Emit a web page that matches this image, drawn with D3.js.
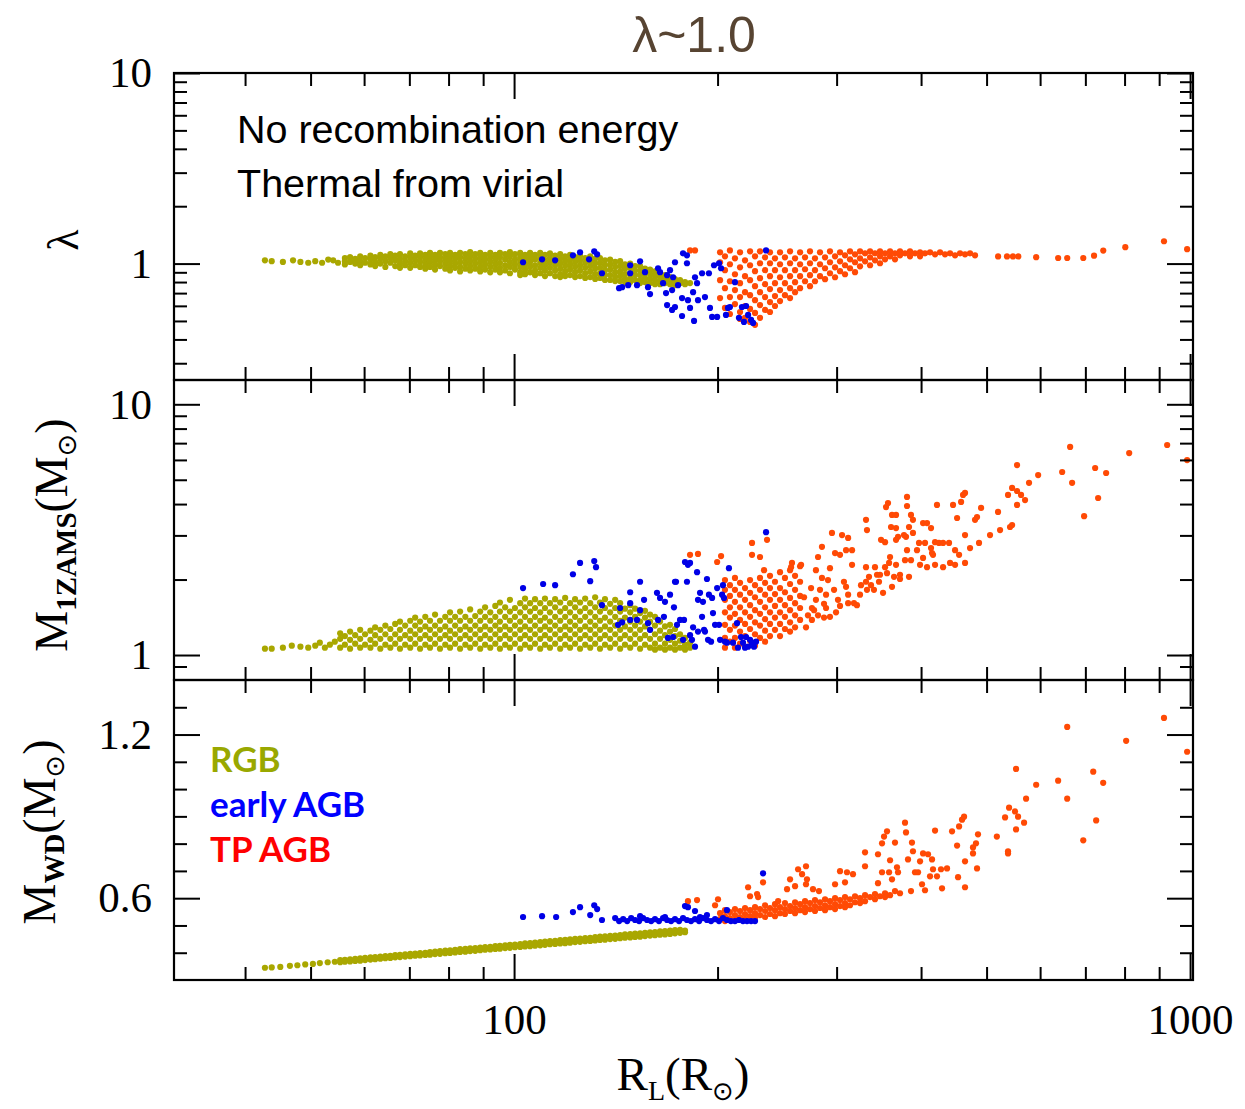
<!DOCTYPE html>
<html>
<head>
<meta charset="utf-8">
<script src="https://cdn.jsdelivr.net/npm/d3@7"></script>
<style>
body { margin: 0; background: #fff; }
svg { display: block; }
</style>
</head>
<body>
<svg id="chart" width="1245" height="1109"></svg>
<script>
// ---- tick values ----
const xMajorTicks = [100, 1000];
const xMinorTicks = [40, 50, 60, 70, 80, 90, 200, 300, 400, 500, 600, 700, 800, 900];
const lambdaMajor = [1, 10];
const lambdaMinor = [0.3, 0.4, 0.5, 0.6, 0.7, 0.8, 0.9, 2, 3, 4, 5, 6, 7, 8, 9];
const mzamsMajor = [1, 10];
const mzamsMinor = [0.9, 2, 3, 4, 5, 6, 7, 8, 9];
const mwdMajor = [0.6, 1.2];
const mwdMinor = [0.4, 0.5, 0.7, 0.8, 0.9, 1.0, 1.1, 1.3];

// ---- data: [R_L, value] or [R_L, [values...]] ----
// panel 1: lambda
const rgbLambda = [
  [42.8,[1.04]],[43.8,[1.03]],[45.5,[1.02]],[47.1,[1.04]],[48.3,[1.02]],[49.6,[1.01]],[50.8,[1.03]],[52.0,[1.01]],[53.1,[1.05]],[54.0,[1.04]],[54.9,[1.01]],
  [56.2,[1.07,1.03,0.99]],[57.2,[1.08,1.02]],[58.2,[1.06,1.00,1.04]],[59.2,[1.09,1.03,0.98]],[60.2,[1.07,1.01]],[61.3,[1.10,1.05,0.99]],
  [62.3,[1.08,1.02,0.97]],[63.4,[1.11,1.06,1.00]],[64.5,[1.09,1.03,0.96]],[65.6,[1.12,1.07,1.01]],[66.7,[1.10,1.04,0.97]],[67.8,[1.12,1.06,1.00,0.95]],
  [69.0,[1.09,1.03,0.98]],[70.2,[1.13,1.07,1.01,0.95]],[71.4,[1.10,1.04,0.98]],[72.6,[1.13,1.08,1.02,0.96]],[73.9,[1.11,1.05,0.99,0.94]],
  [75.1,[1.14,1.08,1.02,0.96]],[76.4,[1.11,1.05,0.99,0.93]],[77.7,[1.14,1.08,1.03,0.97]],[79.1,[1.12,1.06,1.00,0.94]],[80.4,[1.14,1.09,1.03,0.97,0.92]],
  [81.8,[1.11,1.06,1.00,0.95]],[83.2,[1.14,1.08,1.02,0.96,0.91]],[84.7,[1.12,1.06,1.00,0.94]],[86.1,[1.15,1.09,1.03,0.97,0.92]],[87.6,[1.12,1.06,1.00,0.94]],
  [89.1,[1.14,1.08,1.02,0.96,0.91]],[90.6,[1.11,1.05,0.99,0.93]],[92.2,[1.14,1.08,1.02,0.96,0.90]],[93.8,[1.11,1.05,0.99,0.93]],[95.3,[1.14,1.08,1.01,0.95,0.90]],
  [97.0,[1.12,1.05,0.98,0.92]],[98.6,[1.15,1.09,1.02,0.96,0.89]],[100.3,[1.12,1.05,0.99,0.93]],[102.1,[1.14,1.08,1.02,0.96,0.90,0.87]],[103.8,[1.11,1.05,0.99,0.93,0.88]],
  [105.6,[1.14,1.08,1.02,0.96,0.90]],[107.4,[1.11,1.05,0.98,0.92,0.87]],[109.3,[1.14,1.08,1.01,0.95,0.89]],[111.1,[1.11,1.04,0.98,0.92,0.86]],[113.0,[1.13,1.07,1.01,0.95,0.89]],
  [115.0,[1.10,1.04,0.98,0.92,0.86]],[117.0,[1.12,1.06,1.00,0.94,0.88,0.85]],[119.0,[1.09,1.03,0.97,0.91,0.86]],[121.0,[1.11,1.05,0.99,0.93,0.87]],[123.1,[1.08,1.02,0.96,0.90,0.85]],
  [125.2,[1.10,1.04,0.98,0.92,0.86]],[127.4,[1.07,1.01,0.95,0.89,0.84]],[129.6,[1.09,1.03,0.97,0.91,0.85]],[131.8,[1.06,1.00,0.94,0.88,0.83]],[134.0,[1.07,1.01,0.95,0.89,0.84]],
  [136.3,[1.04,0.98,0.92,0.87,0.82]],[138.7,[1.05,0.99,0.93,0.87,0.82]],[141.1,[1.02,0.96,0.90,0.85,0.81]],[143.5,[1.03,0.97,0.91,0.86,0.81]],[145.9,[0.99,0.94,0.88,0.83,0.80]],
  [148.5,[1.00,0.95,0.89,0.84,0.80]],[151.0,[0.97,0.92,0.87,0.82]],[153.6,[0.97,0.92,0.87,0.82,0.79]],[156.2,[0.94,0.89,0.84,0.80]],[158.9,[0.93,0.88,0.83,0.79]],
  [161.6,[0.91,0.86,0.82,0.78]],[164.4,[0.89,0.85,0.81,0.78]],[167.2,[0.87,0.83,0.79]],[170.1,[0.85,0.81,0.78]],[173.0,[0.83,0.80,0.77]],[176.0,[0.82,0.79]],
  [179.0,[0.80,0.78]],[182.1,[0.79]]
];
const eagbLambda = [
  [103.1,1.016],[110.0,1.053],[115.0,1.040],[122.2,1.105],[125.2,1.146],[129.1,1.053],[131.4,1.159],[132.7,1.118],[134.9,0.890],[143.0,0.743],
  [144.5,0.752],[148.5,0.980],[148.5,0.890],[147.5,0.770],[152.0,0.770],[153.6,1.028],[156.2,0.901],[157.8,0.752],[158.9,0.692],[163.3,0.945],
  [164.4,0.901],[166.1,0.789],[168.4,0.869],[167.8,0.700],[170.1,0.923],[171.3,0.726],[171.9,0.848],[173.0,1.016],[168.4,0.606],[171.3,0.571],
  [173.0,0.592],[174.8,0.770],[177.2,0.659],[177.8,1.132],[180.2,1.105],[180.2,1.004],[180.8,0.643],[182.1,0.585],[184.0,0.708],[185.2,0.848],
  [186.5,0.789],[177.2,0.531],[184.6,0.500],[187.1,0.643],[189.7,0.890],[191.6,0.667],[194.2,0.890],[194.9,0.585],[196.3,0.525],[197.6,0.980],
  [199.7,0.525],[201.0,1.004],[202.4,0.945],[205.8,0.538],[207.2,0.585],[208.6,0.592],[212.2,0.799],[215.1,0.519],[217.3,0.592],[218.8,0.494],
  [220.4,0.599],[221.9,0.538],[224.2,0.506],[225.7,0.488],[235.9,1.173]
];
const tpagbLambda = [
  [182.1,[1.173]],[185.2,[1.173]],[201.7,[1.146,1.016,0.818,0.659]],[205.1,[1.092,0.923,0.743,0.585]],[208.6,[1.173,0.992,0.808,0.667,0.544]],
  [212.2,[1.066,0.879,0.726,0.613]],[215.9,[1.146,0.956,0.789,0.667,0.557,0.512]],[219.6,[1.040,0.859,0.708,0.599,0.519]],
  [223.4,[1.159,0.980,0.818,0.683,0.578,0.494]],[227.2,[1.092,0.912,0.761,0.643,0.551,0.477]],[231.1,[1.159,1.004,0.838,0.708,0.606,0.519]],
  [235.1,[1.079,0.923,0.780,0.667,0.571]],[239.1,[1.146,1.004,0.859,0.735,0.628,0.557]],[243.2,[1.066,0.923,0.789,0.675,0.599]],
  [247.4,[1.146,0.992,0.848,0.726,0.636]],[251.6,[1.079,0.923,0.789,0.683]],[256.0,[1.159,1.004,0.859,0.743,0.659]],[260.4,[1.066,0.923,0.799,0.708]],
  [264.9,[1.146,0.992,0.859,0.743]],[269.4,[1.079,0.934,0.808]],[274.0,[1.159,1.004,0.869,0.761]],[278.7,[1.066,0.923,0.808]],[283.5,[1.146,0.992,0.859]],
  [288.4,[1.079,0.945,0.828]],[293.3,[1.159,1.016,0.890]],[298.4,[1.092,0.956,0.848]],[303.5,[1.146,1.028,0.912]],[308.7,[1.105,0.980,0.879]],
  [314.0,[1.159,1.053,0.945]],[319.4,[1.118,1.016,0.901]],[324.9,[1.159,1.066,0.968]],[330.5,[1.132,1.028]],[336.2,[1.159,1.079,0.980]],
  [341.9,[1.132,1.040]],[347.8,[1.159,1.092,1.004]],[353.8,[1.132,1.053]],[359.9,[1.159,1.092]],[366.0,[1.132,1.053]],[372.3,[1.159,1.105]],
  [378.7,[1.132]],[385.2,[1.159,1.092]],[391.8,[1.132]],[398.6,[1.146,1.092]],[405.4,[1.132]],[412.4,[1.146]],[419.5,[1.118]],[426.7,[1.146]],
  [434.0,[1.118]],[441.5,[1.132]],[449.1,[1.105]],[456.8,[1.132]],[464.6,[1.118]],[472.6,[1.132]],[480.7,[1.105]],
  [520,[1.09]],[536,[1.09]],[547,[1.09]],[557,[1.09]],[592,[1.08]],[638,[1.07]],[658,[1.07]],[695,[1.07]],[721,[1.10]],[744,[1.17]],
  [802,[1.22]],[915,[1.31]],[990,[1.19]]
];

// panel 2: M_1ZAMS
const rgbMzams = [
  [42.8,[1.06]],[43.8,[1.06]],[45.5,[1.07]],[46.9,[1.09]],[48.3,[1.08]],[49.6,[1.07]],[50.8,[1.09]],[51.6,[1.12]],[52.5,[1.07]],[53.4,[1.10]],[54.3,[1.13]],
  [55.3,[1.07,1.16,1.22]],[56.2,[1.10,1.19]],[57.2,[1.06,1.15,1.24]],[58.2,[1.11,1.20]],[59.2,[1.07,1.16,1.26]],[60.2,[1.10,1.21]],
  [61.3,[1.07,1.15,1.25]],[62.3,[1.11,1.20,1.29]],[63.4,[1.06,1.16,1.26]],[64.5,[1.10,1.21,1.31]],[65.6,[1.07,1.16,1.27]],[66.7,[1.11,1.21,1.33]],
  [67.8,[1.06,1.16,1.26,1.36]],[69.0,[1.10,1.20,1.31]],[70.2,[1.07,1.16,1.25,1.37]],[71.4,[1.11,1.21,1.31,1.41]],[72.6,[1.06,1.16,1.26,1.36]],
  [73.9,[1.10,1.20,1.30,1.42]],[75.1,[1.07,1.16,1.26,1.37]],[76.4,[1.11,1.21,1.31,1.45]],[77.7,[1.06,1.16,1.26,1.37]],[79.1,[1.10,1.20,1.30,1.42]],
  [80.4,[1.07,1.16,1.25,1.37,1.48]],[81.8,[1.11,1.21,1.31,1.42]],[83.2,[1.06,1.16,1.26,1.37,1.49]],[84.7,[1.10,1.20,1.30,1.42]],
  [86.1,[1.07,1.16,1.26,1.37,1.52]],[87.6,[1.11,1.21,1.31,1.43]],[89.1,[1.06,1.16,1.26,1.37,1.49]],[90.6,[1.10,1.20,1.30,1.42,1.55]],
  [92.2,[1.07,1.16,1.26,1.37,1.48]],[93.8,[1.11,1.21,1.31,1.42,1.57]],[95.3,[1.06,1.16,1.26,1.36,1.49,1.62]],[97.0,[1.10,1.20,1.30,1.42,1.55]],
  [98.6,[1.07,1.16,1.26,1.37,1.49,1.66]],[100.3,[1.11,1.21,1.31,1.42,1.54]],[102.1,[1.06,1.16,1.26,1.36,1.48,1.61]],[103.8,[1.10,1.20,1.30,1.42,1.55,1.68]],
  [105.6,[1.07,1.16,1.26,1.37,1.49,1.61]],[107.4,[1.11,1.21,1.31,1.42,1.54,1.67]],[109.3,[1.06,1.16,1.26,1.37,1.48,1.61]],[111.1,[1.10,1.20,1.30,1.41,1.54,1.68]],
  [113.0,[1.07,1.16,1.26,1.36,1.48,1.61]],[115.0,[1.11,1.21,1.31,1.42,1.55,1.67]],[117.0,[1.06,1.16,1.26,1.37,1.49,1.62]],[119.0,[1.10,1.20,1.30,1.42,1.54,1.69]],
  [121.0,[1.07,1.16,1.26,1.36,1.48,1.61]],[123.1,[1.11,1.21,1.31,1.42,1.55,1.67]],[125.2,[1.06,1.16,1.26,1.37,1.49,1.62]],[127.4,[1.10,1.20,1.30,1.42,1.54,1.68]],
  [129.6,[1.07,1.16,1.26,1.36,1.48,1.61]],[131.8,[1.11,1.21,1.31,1.42,1.55,1.70]],[134.0,[1.06,1.16,1.26,1.37,1.49,1.62]],[136.3,[1.10,1.20,1.30,1.41,1.54,1.67]],
  [138.7,[1.07,1.16,1.26,1.36,1.48,1.60]],[141.1,[1.11,1.21,1.31,1.42,1.54,1.66]],[143.5,[1.06,1.16,1.26,1.37,1.49,1.61]],[145.9,[1.10,1.20,1.30,1.41,1.53]],
  [148.5,[1.07,1.16,1.26,1.36,1.48,1.58]],[151.0,[1.11,1.21,1.31,1.42,1.53]],[153.6,[1.06,1.16,1.26,1.36,1.47]],[156.2,[1.10,1.20,1.30,1.41,1.50]],
  [158.9,[1.07,1.16,1.26,1.36,1.45]],[161.6,[1.05,1.11,1.21,1.31,1.42]],[164.4,[1.07,1.16,1.25,1.36]],[167.2,[1.05,1.11,1.20,1.30]],
  [170.1,[1.07,1.15,1.24,1.32]],[173.0,[1.05,1.11,1.19,1.27]],[176.0,[1.07,1.14,1.21]],[179.0,[1.05,1.10,1.17]],[182.1,[1.07,1.12]]
];
const eagbMzams = [
  [103.1,1.85],[110.4,1.92],[115.0,1.90],[122.2,2.10],[125.2,2.33],[129.6,1.97],[131.4,2.37],[132.2,2.24],[134.9,1.58],[143.5,1.54],
  [142.5,1.32],[144.5,1.35],[148.5,1.78],[148.5,1.61],[148.5,1.38],[152.0,1.38],[153.6,1.96],[155.7,1.66],[153.6,1.51],[157.8,1.34],
  [158.9,1.26],[162.7,1.77],[163.3,1.38],[164.4,1.69],[167.2,1.63],[168.9,1.17],[170.1,1.74],[171.9,1.18],[173.0,1.96],[174.2,1.32],
  [176.0,1.38],[177.8,1.15],[179.0,2.35],[180.2,1.96],[180.8,2.29],[182.1,1.20],[184.0,1.29],[185.2,1.08],[186.5,2.14],[187.1,1.24],
  [188.4,1.77],[190.3,1.63],[191.6,1.24],[192.9,2.01],[193.6,1.15],[196.3,1.69],[196.9,1.47],[198.3,1.32],[199.7,1.85],[201.7,1.15],
  [203.1,1.74],[203.7,1.90],[206.5,1.12],[166.6,1.42],[172.4,1.55],[178.4,1.38],[183.3,1.15],[189.7,1.42],[194.2,1.74],[195.6,1.13],
  [201.0,1.32],[204.4,1.69],[207.9,2.22],[213.7,1.34],[216.6,1.18],[218.1,1.12],[220.4,1.18],[221.9,1.08],[224.9,1.12],[226.4,1.08],
  [235.9,3.09],[182.1,2.33],[173.6,1.96],[187.1,1.66],[191.0,1.26],[205.1,1.13],[210.8,1.12],[214.4,1.07],[219.6,1.07],[223.4,1.15],[228.0,1.13]
];
const tpagbMzams = [
  [205.1,[1.99,1.82,1.66,1.48,1.32,1.17,1.07]],[208.6,[1.90,1.72,1.55,1.41,1.26,1.13]],[212.2,[2.03,1.82,1.63,1.46,1.31,1.17,1.07]],
  [215.9,[1.94,1.74,1.55,1.38,1.24,1.11]],[219.6,[1.85,1.66,1.48,1.33,1.19,1.08]],[223.4,[1.99,1.77,1.58,1.42,1.27,1.14]],
  [227.2,[1.90,1.70,1.51,1.35,1.21,1.09]],[231.1,[2.03,1.82,1.63,1.46,1.31,1.17]],[235.1,[1.94,1.74,1.55,1.39,1.25,1.13]],
  [239.1,[2.07,1.85,1.66,1.48,1.33,1.19]],[243.2,[1.96,1.75,1.57,1.41,1.26]],[247.4,[2.14,1.85,1.66,1.48,1.33,1.19]],
  [251.6,[2.03,1.78,1.58,1.42,1.27]],[256.0,[2.18,1.92,1.69,1.51,1.35,1.24]],[260.4,[2.07,1.82,1.61,1.44,1.29]],[264.9,[2.26,1.96,1.72,1.54,1.38]],
  [182.1,2.51],[187.1,2.53],[199.7,2.35],[202.4,2.48],[224.9,2.80],[224.9,2.51],[236.7,2.88],[231.1,2.46],[234.3,2.18],[257.7,2.33],
  [256.9,2.24],[265.8,2.29],[268.5,1.70],[272.1,1.44],[270.3,1.29],[275.8,1.38],[277.8,1.51],[279.6,1.66],[275.0,1.85],[283.5,1.82],
  [285.4,2.03],[279.6,2.18],[281.6,2.46],[285.4,2.70],[293.3,2.22],[291.3,1.99],[289.4,1.74],[289.4,1.54],[293.3,1.42],[299.4,1.48],
  [301.4,1.66],[297.4,1.82],[307.6,1.96],[309.8,1.87],[312.0,1.74],[312.0,1.61],[318.3,1.61],[321.5,1.58],[309.8,2.62],[316.2,2.62],
  [298.4,2.55],[303.5,2.51],[295.3,3.07],[305.6,3.01],[312.0,2.93],[316.2,2.29],[331.6,3.46],[332.7,3.15],[331.6,2.24],[335.0,2.05],
  [341.9,2.24],[344.3,2.09],[331.6,1.96],[337.3,1.90],[346.6,1.96],[332.7,1.82],[356.2,2.12],[353.8,2.24],[358.7,2.33],[359.9,2.46],
  [367.3,2.29],[364.8,2.05],[362.3,1.87],[351.4,1.77],[355.0,3.89],[357.4,4.04],[362.3,3.62],[367.3,3.62],[361.1,3.24],[349.0,2.88],
  [353.8,2.82],[367.3,2.88],[381.3,4.27],[381.3,3.93],[386.5,3.62],[383.9,3.24],[380.0,2.96],[369.8,2.96],[377.4,3.01],[367.3,3.21],
  [389.1,3.46],[389.1,3.07],[397.2,2.80],[394.5,2.62],[381.3,2.62],[386.5,2.39],[383.9,2.05],[402.7,3.36],[408.2,3.36],[413.8,3.21],
  [405.4,2.80],[413.8,2.67],[416.6,2.51],[402.7,2.44],[408.2,2.24],[422.3,3.97],[419.5,2.82],[425.2,2.80],[431.1,2.80],[440.0,2.80],
  [415.2,2.55],[431.1,2.24],[441.5,2.33],[455.3,2.51],[464.6,2.33],[446.0,3.97],[458.4,4.08],[464.6,4.43],[461.5,4.35],[452.2,3.52],
  [464.6,3.01],[480.7,3.46],[484.0,3.55],[490.7,3.86],[487.3,2.80],[519.9,3.72],[541.6,3.24],[545.4,3.30],[537.9,4.35],[545.4,4.64],
  [554.7,4.51],[562.3,4.35],[570.0,4.15],[554.7,3.97],[554.7,5.72],[577.8,4.86],[596.0,5.22],[646.8,5.37],[664.6,6.76],[669.1,4.86],
  [697.0,3.58],[723.7,5.57],[731.1,4.23],[751.3,5.32],[812.7,6.39],[924.9,6.88],[990.0,5.99],
  [275.8,1.54],[281.6,1.44],[287.4,1.60],[287.4,1.41],[303.5,1.57],[324.9,1.74],[340.7,1.82],[326.0,1.90],[347.8,2.09],[372.3,2.09],
  [378.7,2.39],[398.6,2.29],[419.5,2.29],[449.1,2.62],[472.6,2.67],[505.9,3.01],[523.5,3.15],[372.3,2.01],[449.1,2.29]
];

// panel 3: M_WD
const rgbMwd = [
  [42.8,[0.345]],[43.8,[0.346]],[45.1,[0.348]],[46.6,[0.352]],[47.8,[0.354]],[49.1,[0.357]],[50.4,[0.359]],[51.6,[0.362]],[53.0,[0.365]],[54.3,[0.367]],
  [55.3,[0.365,0.373]],[56.2,[0.367,0.374]],[57.2,[0.368,0.376]],[58.2,[0.370,0.378]],[59.2,[0.371,0.379]],[60.2,[0.373,0.381]],[61.3,[0.375,0.383]],
  [62.3,[0.376,0.384]],[63.4,[0.378,0.386]],[64.5,[0.380,0.388]],[65.6,[0.381,0.389]],[66.7,[0.383,0.391]],[67.8,[0.384,0.392]],[69.0,[0.386,0.394]],
  [70.2,[0.387,0.396]],[71.4,[0.389,0.397]],[72.6,[0.390,0.399]],[73.9,[0.392,0.400]],[75.1,[0.393,0.402]],[76.4,[0.395,0.404]],[77.7,[0.396,0.406]],
  [79.1,[0.398,0.408]],[80.4,[0.399,0.409]],[81.8,[0.401,0.411]],[83.2,[0.403,0.413]],[84.7,[0.404,0.414]],[86.1,[0.406,0.416]],[87.6,[0.407,0.417]],
  [89.1,[0.409,0.419]],[90.6,[0.411,0.421]],[92.2,[0.412,0.422]],[93.8,[0.414,0.424]],[95.3,[0.415,0.425]],[97.0,[0.417,0.427]],[98.6,[0.418,0.429]],
  [100.3,[0.420,0.430]],[102.1,[0.421,0.432]],[103.8,[0.423,0.434]],[105.6,[0.424,0.435]],[107.4,[0.426,0.437]],
  [109.3,[0.427,0.433,0.439]],[111.1,[0.429,0.435,0.441]],[113.0,[0.431,0.437,0.443]],[115.0,[0.432,0.438,0.444]],[117.0,[0.434,0.440,0.446]],
  [119.0,[0.435,0.441,0.447]],[121.0,[0.437,0.443,0.449]],[123.1,[0.439,0.445,0.451]],[125.2,[0.440,0.446,0.452]],[127.4,[0.442,0.448,0.454]],
  [129.6,[0.443,0.449,0.455]],[131.8,[0.445,0.451,0.457]],[134.0,[0.447,0.453,0.459]],[136.3,[0.448,0.454,0.460]],[138.7,[0.450,0.456,0.462]],
  [141.1,[0.451,0.457,0.463]],[143.5,[0.453,0.459,0.465]],[145.9,[0.455,0.461,0.467]],[148.5,[0.456,0.462,0.468]],[151.0,[0.458,0.464,0.470]],
  [153.6,[0.459,0.465,0.471]],[156.2,[0.461,0.467,0.473]],[158.9,[0.463,0.469,0.475]],[161.6,[0.464,0.470,0.476]],[164.4,[0.466,0.472,0.478]],
  [167.2,[0.467,0.473,0.479]],[170.1,[0.469,0.475,0.481]],[173.0,[0.471,0.477,0.483]],[176.0,[0.473,0.478,0.484]],[179.0,[0.475,0.481]]
];
const eagbMwd = [
  [103.1,0.531],[110.0,0.534],[115.4,0.531],[122.2,0.549],[125.2,0.567],[129.6,0.538],[131.4,0.574],[132.7,0.560],[134.9,0.520],
  [141.1,0.527],[143.0,0.516],[145.0,0.523],[147.0,0.516],[149.0,0.527],[151.0,0.520],[153.1,0.516],[155.2,0.527],[157.3,0.520],[159.5,0.516],
  [161.6,0.523],[163.8,0.516],[166.1,0.527],[168.4,0.520],[170.7,0.516],[173.0,0.523],[175.4,0.516],[177.8,0.527],[180.2,0.520],[182.7,0.516],
  [185.2,0.523],[187.8,0.516],[190.3,0.527],[192.9,0.520],[195.6,0.516],[198.3,0.523],[201.0,0.516],[203.7,0.527],[206.5,0.520],[209.3,0.516],
  [212.2,0.516],[215.1,0.520],[218.1,0.516],[221.1,0.516],[224.2,0.516],[227.2,0.516],
  [153.6,0.534],[179.0,0.571],[180.8,0.567],[185.2,0.553],[192.9,0.538],[206.5,0.556],[233.5,0.691],[167.2,0.531],[188.4,0.531]
];
const tpagbMwd = [
  [201.7,[0.545,0.523]],[205.1,[0.556,0.534,0.516]],[208.6,[0.549,0.527]],[212.2,[0.560,0.538,0.520]],[215.9,[0.553,0.531]],
  [219.6,[0.564,0.542,0.523]],[223.4,[0.556,0.534]],[227.2,[0.567,0.545,0.527]],[231.1,[0.560,0.538]],[235.1,[0.574,0.553,0.531]],
  [239.1,[0.564,0.542]],[243.2,[0.578,0.556,0.534]],[247.4,[0.567,0.545]],[251.6,[0.582,0.560,0.542]],[256.0,[0.571,0.553]],
  [260.4,[0.585,0.564,0.545]],[264.9,[0.578,0.556]],[269.4,[0.589,0.567,0.549]],[274.0,[0.582,0.560]],[278.7,[0.593,0.571,0.553]],
  [283.5,[0.585,0.564]],[288.4,[0.596,0.574,0.556]],[293.3,[0.589,0.567]],[298.4,[0.600,0.578,0.560]],[303.5,[0.593,0.571]],
  [308.7,[0.604,0.582,0.567]],[314.0,[0.596,0.574]],[319.4,[0.607,0.585]],[324.9,[0.600,0.582]],[330.5,[0.611,0.589]],[336.2,[0.604]],
  [341.9,[0.615,0.596]],[347.8,[0.607]],[353.8,[0.618,0.604]],[359.9,[0.611]],[366.0,[0.626]],[372.3,[0.618]],
  [180.8,0.589],[186.5,0.593],[200.3,0.596],[198.3,0.574],[221.9,0.640],[223.4,0.607],[228.8,0.615],[229.6,0.604],[233.5,0.658],[245.8,0.589],
  [253.4,0.633],[256.0,0.669],[260.4,0.644],[263.1,0.706],[266.7,0.688],[270.3,0.717],[271.2,0.669],[270.3,0.651],[276.8,0.633],[282.5,0.626],
  [298.4,0.651],[303.5,0.699],[308.7,0.658],[310.8,0.695],[317.2,0.688],[330.5,0.768],[330.5,0.717],[345.4,0.761],[345.4,0.655],[350.2,0.695],
  [350.2,0.801],[352.6,0.826],[356.2,0.845],[359.9,0.739],[358.7,0.695],[362.3,0.669],[366.0,0.804],[368.5,0.713],[369.8,0.695],[378.7,0.877],
  [380.0,0.841],[382.6,0.742],[387.8,0.804],[389.1,0.772],[391.8,0.695],[386.5,0.626],[395.9,0.695],[398.6,0.735],[401.3,0.651],[405.4,0.629],
  [402.7,0.764],[409.6,0.761],[415.2,0.742],[416.6,0.706],[412.4,0.680],[419.5,0.848],[422.3,0.680],[429.6,0.636],[428.1,0.706],[437.0,0.709],
  [444.5,0.845],[452.2,0.793],[453.7,0.677],[455.3,0.863],[459.9,0.888],[463.1,0.899],[464.6,0.735],[464.6,0.640],[477.4,0.786],[477.4,0.764],
  [482.3,0.801],[485.6,0.834],[484.0,0.709],[517.8,0.826],[532.5,0.896],[539.8,0.932],[537.9,0.772],[537.9,0.764],[550.9,0.918],[552.8,0.852],
  [552.8,1.074],[556.6,0.899],[568.1,0.877],[572.0,0.965],[592.0,1.016],[638.0,1.031],[658.0,0.965],[658.0,1.228],[695.0,0.812],[719.0,1.064],
  [726.2,0.885],[743.8,1.023],[804.3,1.177],[915.0,1.261],[990.0,1.137]
];

// ---- layout ----
const plotLeft = 174, plotRight = 1193;
const colors = { rgb: '#a9a700', eagb: '#0000e6', tp: '#ff4a05' };
const flat = rows => rows.flatMap(d => Array.isArray(d[1]) ? d[1].map(v => [d[0], v]) : [d]);

const svg = d3.select('#chart');
const x = d3.scaleLog().domain([31.4, 1010]).range([plotLeft, plotRight]);

const panels = [
  { top: 73, bottom: 380, y: d3.scaleLog().domain([0.245, 10]).range([380, 73]),
    major: lambdaMajor, minor: lambdaMinor, fmt: d => d,
    rgb: rgbLambda, eagb: eagbLambda, tp: tpagbLambda },
  { top: 380, bottom: 680, y: d3.scaleLog().domain([0.795, 12.5]).range([680, 380]),
    major: mzamsMajor, minor: mzamsMinor, fmt: d => d,
    rgb: rgbMzams, eagb: eagbMzams, tp: tpagbMzams },
  { top: 680, bottom: 980, y: d3.scaleLinear().domain([0.3, 1.4]).range([980, 680]),
    major: mwdMajor, minor: mwdMinor, fmt: d3.format('.1f'),
    rgb: rgbMwd, eagb: eagbMwd, tp: tpagbMwd, xLabels: true }
];

const serif = '"Liberation Serif", "DejaVu Serif", serif';
const sans = '"Liberation Sans", Arial, sans-serif';

panels.forEach(p => {
  const g = svg.append('g');

  // points: RGB first, then TP-AGB, early AGB on top
  [['rgb', p.rgb], ['tp', p.tp], ['eagb', p.eagb]].forEach(([k, rows]) => {
    g.append('g').selectAll('circle')
      .data(flat(rows))
      .enter()
      .append('circle')
      .attr('cx', d => x(d[0]))
      .attr('cy', d => p.y(d[1]))
      .attr('r', 3.1)
      .attr('fill', colors[k]);
  });

  const ax = g.append('g').attr('class', 'axes');
  // y ticks left / right
  ax.append('g').attr('transform', `translate(${plotLeft},0)`)
    .call(d3.axisLeft(p.y).tickValues(p.major).tickSize(-26).tickPadding(22).tickFormat(p.fmt));
  ax.append('g').attr('transform', `translate(${plotLeft},0)`)
    .call(d3.axisLeft(p.y).tickValues(p.minor).tickSize(-13).tickFormat(''));
  ax.append('g').attr('transform', `translate(${plotRight},0)`)
    .call(d3.axisRight(p.y).tickValues(p.major).tickSize(-26).tickFormat(''));
  ax.append('g').attr('transform', `translate(${plotRight},0)`)
    .call(d3.axisRight(p.y).tickValues(p.minor).tickSize(-13).tickFormat(''));
  // x ticks top / bottom
  ax.append('g').attr('transform', `translate(0,${p.top})`)
    .call(d3.axisTop(x).tickValues(xMajorTicks).tickSize(-26).tickFormat(''));
  ax.append('g').attr('transform', `translate(0,${p.top})`)
    .call(d3.axisTop(x).tickValues(xMinorTicks).tickSize(-13).tickFormat(''));
  ax.append('g').attr('transform', `translate(0,${p.bottom})`)
    .call(d3.axisBottom(x).tickValues(xMajorTicks).tickSize(-26).tickPadding(23)
      .tickFormat(p.xLabels ? d => d : ''));
  ax.append('g').attr('transform', `translate(0,${p.bottom})`)
    .call(d3.axisBottom(x).tickValues(xMinorTicks).tickSize(-13).tickFormat(''));

  ax.selectAll('.domain').remove();
  ax.selectAll('.tick line').attr('stroke', '#000').attr('stroke-width', 2);
  ax.selectAll('.tick text')
    .attr('fill', '#000')
    .style('font-family', serif)
    .style('font-size', '43px');

  g.append('rect')
    .attr('x', plotLeft).attr('y', p.top)
    .attr('width', plotRight - plotLeft).attr('height', p.bottom - p.top)
    .attr('fill', 'none').attr('stroke', '#000').attr('stroke-width', 2.2);
});

// ---- title ----
svg.append('text')
  .attr('x', 694).attr('y', 52)
  .attr('text-anchor', 'middle')
  .attr('fill', '#574432')
  .style('font-family', sans)
  .style('font-size', '50px')
  .text('λ~1.0');

// ---- annotations ----
const notes = [['No recombination energy', 143], ['Thermal from virial', 197]];
svg.selectAll('.note').data(notes).enter().append('text')
  .attr('class', 'note')
  .attr('x', 237).attr('y', d => d[1])
  .style('font-family', sans)
  .style('font-size', '39.5px')
  .attr('fill', '#000')
  .text(d => d[0]);

// ---- legend ----
const legend = [['RGB', '#99a800', 772], ['early AGB', '#0000ff', 817], ['TP AGB', '#ff0000', 862]];
svg.selectAll('.legend').data(legend).enter().append('text')
  .attr('class', 'legend')
  .attr('x', 210).attr('y', d => d[2])
  .attr('fill', d => d[1])
  .style('font-family', 'Lato, "Open Sans", sans-serif')
  .style('font-weight', 'bold')
  .style('font-size', '35px')
  .text(d => d[0]);

// ---- axis titles ----
const xTitle = svg.append('text')
  .attr('x', 683).attr('y', 1090)
  .attr('text-anchor', 'middle')
  .style('font-family', serif)
  .style('font-size', '47px');
xTitle.append('tspan').text('R');
xTitle.append('tspan').attr('dy', 10).style('font-size', '28px').text('L');
xTitle.append('tspan').attr('dy', -10).text('(R');
xTitle.append('tspan').attr('dy', 10).style('font-size', '26px').style('font-family', '"DejaVu Sans", sans-serif').text('⊙');
xTitle.append('tspan').attr('dy', -10).text(')');

svg.append('text')
  .attr('transform', 'translate(78,240) rotate(-90)')
  .attr('text-anchor', 'middle')
  .style('font-family', serif)
  .style('font-size', '44px')
  .text('λ');

function massTitle(cx, cy, sub) {
  const t = svg.append('text')
    .attr('transform', `translate(${cx},${cy}) rotate(-90)`)
    .attr('text-anchor', 'middle')
    .style('font-family', serif)
    .style('font-size', '46px');
  t.append('tspan').text('M');
  t.append('tspan').attr('dy', 9).style('font-size', '29px').style('font-weight', 'bold').text(sub);
  t.append('tspan').attr('dy', -9).text('(M');
  t.append('tspan').attr('dy', 9).style('font-size', '27px').style('font-family', '"DejaVu Sans", sans-serif').text('⊙');
  t.append('tspan').attr('dy', -9).text(')');
}
massTitle(67, 535, '1ZAMS');
massTitle(55, 832, 'WD');
</script>
</body>
</html>
